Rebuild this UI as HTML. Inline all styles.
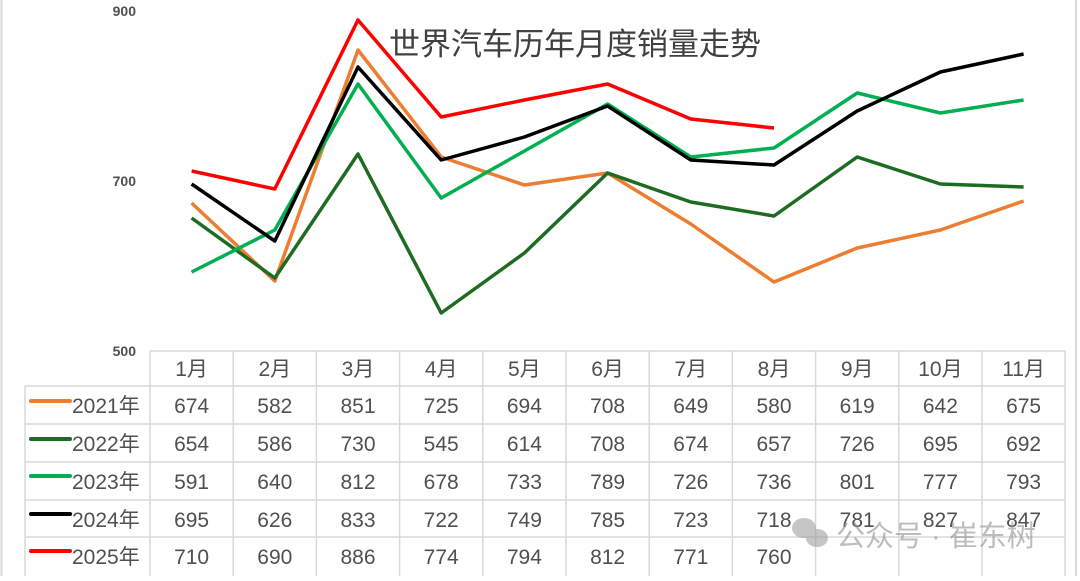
<!DOCTYPE html>
<html><head><meta charset="utf-8"><style>
body{margin:0;background:#fff;}
svg text{font-family:"Liberation Sans","Noto Sans CJK SC",sans-serif;fill:#505050;}
</style></head><body>
<svg width="1080" height="576" viewBox="0 0 1080 576" xmlns="http://www.w3.org/2000/svg">
<rect x="0" y="0" width="1080" height="576" fill="#fff"/>
<line x1="1.5" y1="0" x2="1.5" y2="576" stroke="#d9d9d9" stroke-width="2"/>
<line x1="1076" y1="0" x2="1076" y2="576" stroke="#d9d9d9" stroke-width="2"/>
<text x="575" y="55" font-size="31" text-anchor="middle" style="fill:#404040">世界汽车历年月度销量走势</text>
<g font-size="14" font-weight="bold" text-anchor="end">
<text x="136" y="16">900</text><text x="136" y="186">700</text><text x="136" y="356">500</text>
</g>
<g fill="none" stroke-width="3.5" stroke-linejoin="round">
<polyline stroke="#ed7d31" points="191.6,203 274.8,281 358,50 441.2,157 524.4,185 607.6,173 690.8,224 774,282 857.2,248 940.4,230 1023.6,201"/>
<polyline stroke="#1e6b22" points="191.6,218 274.8,278 358,154 441.2,313 524.4,253 607.6,173 690.8,202 774,216 857.2,157 940.4,184 1023.6,187"/>
<polyline stroke="#00b050" points="191.6,272 274.8,230 358,84 441.2,198 524.4,151 607.6,104 690.8,157 774,148 857.2,93 940.4,113 1023.6,100"/>
<polyline stroke="#000" points="191.6,184 274.8,241 358,67 441.2,160 524.4,137 607.6,106 690.8,160 774,165 857.2,111 940.4,72 1023.6,54"/>
<polyline stroke="#ff0000" points="191.6,171 274.8,189 358,20 441.2,117 524.4,100 607.6,84 690.8,119 774,128"/>
</g>
<g stroke="#d9d9d9" stroke-width="1.5" fill="none">
<line x1="150" y1="351" x2="1065" y2="351"/>
<line x1="25" y1="386" x2="1065" y2="386"/>
<line x1="25" y1="424" x2="1065" y2="424"/>
<line x1="25" y1="462" x2="1065" y2="462"/>
<line x1="25" y1="500" x2="1065" y2="500"/>
<line x1="25" y1="537" x2="1065" y2="537"/>
<line x1="25" y1="386" x2="25" y2="576"/>
<line x1="150" y1="351" x2="150" y2="576"/><line x1="233.2" y1="351" x2="233.2" y2="576"/><line x1="316.4" y1="351" x2="316.4" y2="576"/><line x1="399.6" y1="351" x2="399.6" y2="576"/><line x1="482.8" y1="351" x2="482.8" y2="576"/><line x1="566" y1="351" x2="566" y2="576"/><line x1="649.2" y1="351" x2="649.2" y2="576"/><line x1="732.4" y1="351" x2="732.4" y2="576"/><line x1="815.6" y1="351" x2="815.6" y2="576"/><line x1="898.8" y1="351" x2="898.8" y2="576"/><line x1="982" y1="351" x2="982" y2="576"/><line x1="1065" y1="351" x2="1065" y2="576"/>
</g>
<g stroke-width="4" stroke-linecap="round">
<line x1="31" y1="401" x2="70" y2="401" stroke="#ed7d31"/>
<line x1="31" y1="439" x2="70" y2="439" stroke="#1e6b22"/>
<line x1="31" y1="476" x2="70" y2="476" stroke="#00b050"/>
<line x1="31" y1="514" x2="70" y2="514" stroke="#000"/>
<line x1="31" y1="551" x2="70" y2="551" stroke="#ff0000"/>
</g>
<g font-size="21">
<text x="72" y="413">2021年</text><text x="72" y="451">2022年</text><text x="72" y="489">2023年</text><text x="72" y="527">2024年</text><text x="72" y="564">2025年</text>
</g>
<g font-size="21" text-anchor="middle">
<text x="191.6" y="376">1月</text><text x="274.8" y="376">2月</text><text x="358" y="376">3月</text><text x="441.2" y="376">4月</text><text x="524.4" y="376">5月</text><text x="607.6" y="376">6月</text><text x="690.8" y="376">7月</text><text x="774" y="376">8月</text><text x="857.2" y="376">9月</text><text x="940.4" y="376">10月</text><text x="1023.6" y="376">11月</text>
<text x="191.6" y="413">674</text><text x="274.8" y="413">582</text><text x="358" y="413">851</text><text x="441.2" y="413">725</text><text x="524.4" y="413">694</text><text x="607.6" y="413">708</text><text x="690.8" y="413">649</text><text x="774" y="413">580</text><text x="857.2" y="413">619</text><text x="940.4" y="413">642</text><text x="1023.6" y="413">675</text>
<text x="191.6" y="451">654</text><text x="274.8" y="451">586</text><text x="358" y="451">730</text><text x="441.2" y="451">545</text><text x="524.4" y="451">614</text><text x="607.6" y="451">708</text><text x="690.8" y="451">674</text><text x="774" y="451">657</text><text x="857.2" y="451">726</text><text x="940.4" y="451">695</text><text x="1023.6" y="451">692</text>
<text x="191.6" y="489">591</text><text x="274.8" y="489">640</text><text x="358" y="489">812</text><text x="441.2" y="489">678</text><text x="524.4" y="489">733</text><text x="607.6" y="489">789</text><text x="690.8" y="489">726</text><text x="774" y="489">736</text><text x="857.2" y="489">801</text><text x="940.4" y="489">777</text><text x="1023.6" y="489">793</text>
<text x="191.6" y="527">695</text><text x="274.8" y="527">626</text><text x="358" y="527">833</text><text x="441.2" y="527">722</text><text x="524.4" y="527">749</text><text x="607.6" y="527">785</text><text x="690.8" y="527">723</text><text x="774" y="527">718</text><text x="857.2" y="527">781</text><text x="940.4" y="527">827</text><text x="1023.6" y="527">847</text>
<text x="191.6" y="564">710</text><text x="274.8" y="564">690</text><text x="358" y="564">886</text><text x="441.2" y="564">774</text><text x="524.4" y="564">794</text><text x="607.6" y="564">812</text><text x="690.8" y="564">771</text><text x="774" y="564">760</text>
</g>
<g opacity="0.55">
<ellipse cx="804" cy="528" rx="12" ry="10" fill="#999"/>
<ellipse cx="817" cy="538" rx="11" ry="9" fill="#999"/>
<text x="836" y="546" font-size="29" style="fill:#888">公众号 · 崔东树</text>
</g>
</svg>
</body></html>
